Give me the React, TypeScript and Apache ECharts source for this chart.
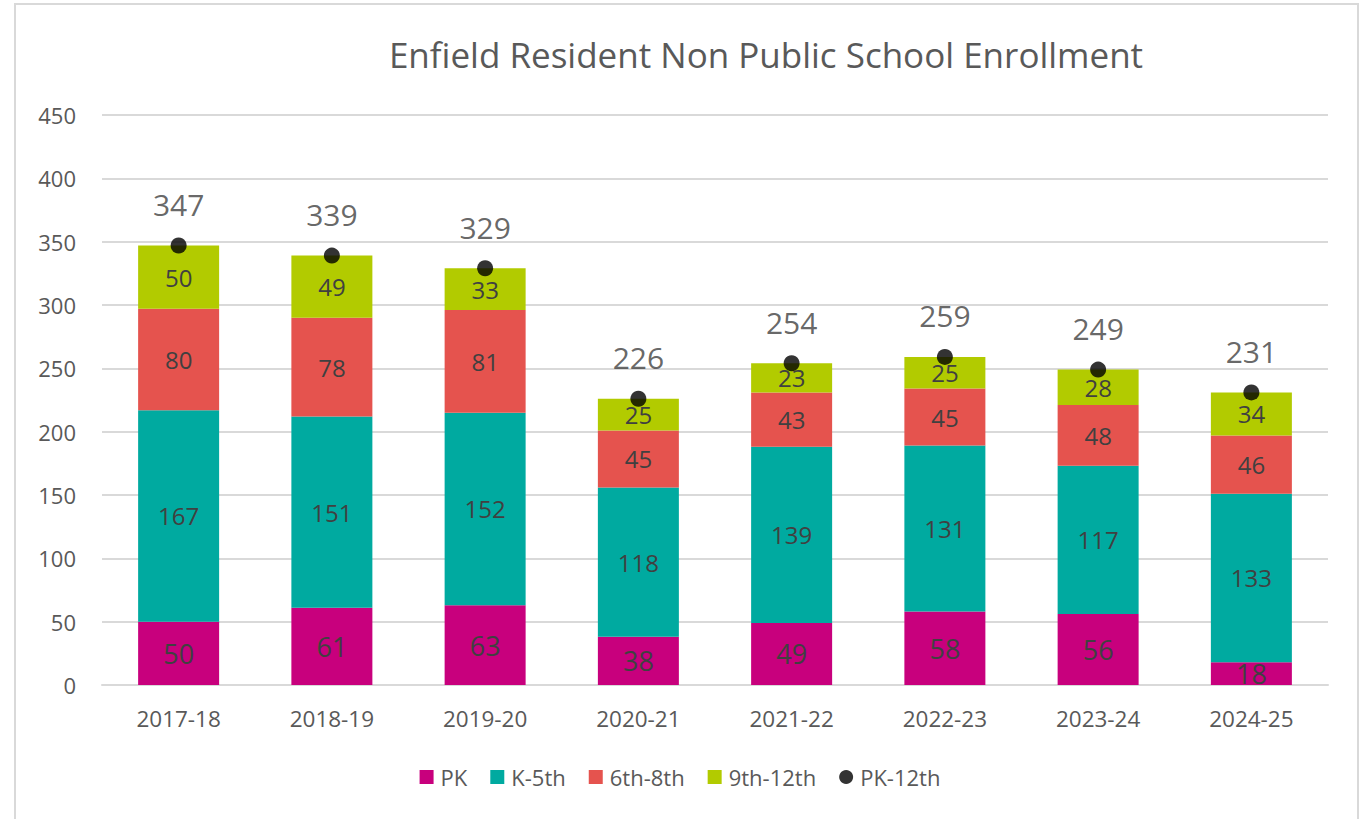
import React, { useEffect, useRef } from "react";
import * as echarts from "echarts";

const categories = ["2017-18", "2018-19", "2019-20", "2020-21", "2021-22", "2022-23", "2023-24", "2024-25"];
const pk = [50, 61, 63, 38, 49, 58, 56, 18];
const k5 = [167, 151, 152, 118, 139, 131, 117, 133];
const g68 = [80, 78, 81, 45, 43, 45, 48, 46];
const g912 = [50, 49, 33, 25, 23, 25, 28, 34];
const totals = [347, 339, 329, 226, 254, 259, 249, 231];
const yTicks = { min: 0, max: 450, interval: 50 };

const FONT = "Open Sans";

export default function App() {
  const ref = useRef<HTMLDivElement>(null);
  useEffect(() => {
    if (!ref.current) return;
    const chart = echarts.init(ref.current, undefined, { renderer: "svg" });
    const barLabel = (size: number) => ({
      show: true,
      position: "inside" as const,
      color: "#404040",
      fontSize: size,
      fontFamily: FONT,
    });
    chart.setOption({
      animation: false,
      backgroundColor: "#ffffff",
      title: {
        text: "Enfield Resident Non Public School Enrollment",
        left: 761,
        top: 32,
        textAlign: "center",
        textStyle: { color: "#595959", fontSize: 35, fontWeight: "normal", fontFamily: FONT },
      },
      graphic: [
        {
          type: "rect",
          shape: { x: 15, y: 4, width: 1343, height: 830 },
          style: { fill: "none", stroke: "#d9d9d9", lineWidth: 2 },
          silent: true,
        },
      ],
      grid: { left: 102, right: 32, top: 115, bottom: 134 },
      legend: {
        top: 761,
        left: "center",
        itemWidth: 14,
        itemHeight: 14,
        itemGap: 23,
        textStyle: { color: "#595959", fontSize: 22, fontFamily: FONT, padding: [0, 0, 0, 2] },
        data: [
          { name: "PK", icon: "rect" },
          { name: "K-5th", icon: "rect" },
          { name: "6th-8th", icon: "rect" },
          { name: "9th-12th", icon: "rect" },
          { name: "PK-12th", icon: "circle" },
        ],
      },
      xAxis: {
        type: "category",
        data: categories,
        axisLine: { lineStyle: { color: "#d9d9d9", width: 2 } },
        axisTick: { show: false },
        axisLabel: { color: "#595959", fontSize: 22.5, fontFamily: FONT, margin: 22 },
      },
      yAxis: {
        type: "value",
        min: yTicks.min,
        max: yTicks.max,
        interval: yTicks.interval,
        axisLine: { show: false },
        axisTick: { show: false },
        splitLine: { lineStyle: { color: "#d9d9d9", width: 2 } },
        axisLabel: { color: "#595959", fontSize: 22, fontFamily: FONT, margin: 26 },
      },
      series: [
        {
          name: "PK",
          type: "bar",
          stack: "s",
          data: pk,
          barWidth: 81,
          itemStyle: { color: "#C8007D" },
          label: barLabel(27),
        },
        {
          name: "K-5th",
          type: "bar",
          stack: "s",
          data: k5,
          itemStyle: { color: "#00AAA0" },
          label: barLabel(24),
        },
        {
          name: "6th-8th",
          type: "bar",
          stack: "s",
          data: g68,
          itemStyle: { color: "#E5534E" },
          label: barLabel(24),
        },
        {
          name: "9th-12th",
          type: "bar",
          stack: "s",
          data: g912,
          itemStyle: { color: "#B2CB00" },
          label: barLabel(24),
        },
        {
          name: "PK-12th",
          type: "scatter",
          data: totals,
          symbolSize: 16,
          itemStyle: { color: "#000000" },
          label: {
            show: true,
            position: "top",
            distance: 18,
            color: "#404040",
            fontSize: 30,
            fontFamily: FONT,
          },
          z: 5,
        },
      ],
    });
    return () => chart.dispose();
  }, []);
  return (
    <div
      ref={ref}
      style={{ position: "fixed", left: 0, top: 0, width: 1360, height: 819 }}
    />
  );
}
